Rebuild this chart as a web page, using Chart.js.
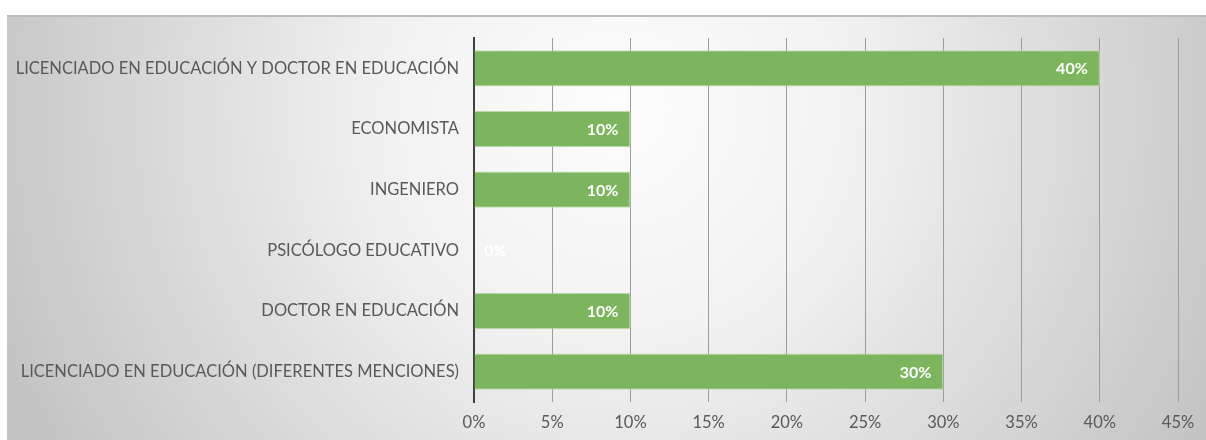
<!DOCTYPE html>
<html lang="es">
<head>
    <meta charset="UTF-8">
    <title>Formación profesional</title>
    <style>
        body {
            margin: 0;
            padding: 0;
            background-color: #ffffff;
        }

        .chart-box {
            width: 1206px;
            height: 440px;
        }
    </style>
    <script src="https://cdn.jsdelivr.net/npm/chart.js"></script>
</head>
<body>

    <div class="chart-box">
        <canvas id="myCanvas" width="1206" height="440"></canvas>
    </div>

    <script>
        "use strict";

        // categories (top to bottom) and their share in percent
        const categories = [
            'LICENCIADO EN EDUCACIÓN Y DOCTOR EN EDUCACIÓN',
            'ECONOMISTA',
            'INGENIERO',
            'PSICÓLOGO EDUCATIVO',
            'DOCTOR EN EDUCACIÓN',
            'LICENCIADO EN EDUCACIÓN (DIFERENTES MENCIONES)'
        ];
        const percentages = [40, 10, 10, 0, 10, 30];
        const axisMax = 45;
        const axisStep = 5;

        const labelFont = 'Lato';
        const textGrey = '#595959';
        const barGreen = '#7cb55e';

        // grey radial backdrop with a thin top rule
        const backdrop = {
            id: 'backdrop',
            beforeDraw(chart) {
                const ctx = chart.ctx;
                const w = chart.width, h = chart.height;
                ctx.save();
                const g = ctx.createRadialGradient(620, 110, 0, 620, 110, 660);
                g.addColorStop(0, '#fdfdfd');
                g.addColorStop(0.35, '#f2f2f2');
                g.addColorStop(1, '#c4c4c4');
                ctx.fillStyle = g;
                ctx.fillRect(7, 15, w - 7, h - 15);
                ctx.fillStyle = '#bcbcbc';
                ctx.fillRect(7, 15, w - 7, 2);
                ctx.restore();
            }
        };

        // value labels inside the end of each bar
        const valueLabels = {
            id: 'valueLabels',
            afterDatasetsDraw(chart) {
                const ctx = chart.ctx;
                const meta = chart.getDatasetMeta(0);
                ctx.save();
                ctx.font = 'bold 16px ' + labelFont;
                ctx.fillStyle = '#ffffff';
                ctx.textBaseline = 'middle';
                meta.data.forEach((bar, i) => {
                    const v = chart.data.datasets[0].data[i];
                    const text = v + '%';
                    if (v > 0) {
                        ctx.textAlign = 'right';
                        ctx.fillText(text, bar.x - 12, bar.y + 1);
                    } else {
                        ctx.textAlign = 'left';
                        ctx.fillText(text, bar.base + 10, bar.y + 1);
                    }
                });
                ctx.restore();
            }
        };

        const ctx = document.getElementById('myCanvas').getContext('2d');

        const chart = new Chart(ctx, {
            type: 'bar',
            data: {
                labels: categories,
                datasets: [{
                    data: percentages,
                    backgroundColor: barGreen,
                    borderColor: 'rgba(190, 225, 170, 0.9)',
                    borderWidth: 1,
                    borderSkipped: 'left',
                    barPercentage: 0.6,
                    categoryPercentage: 1
                }]
            },
            options: {
                indexAxis: 'y',
                responsive: false,
                animation: false,
                layout: {
                    padding: { top: 38, right: 28, left: 0, bottom: 0 }
                },
                scales: {
                    x: {
                        min: 0,
                        max: axisMax,
                        ticks: {
                            stepSize: axisStep,
                            padding: 11,
                            color: textGrey,
                            font: { family: labelFont, size: 16.5 },
                            callback: (v) => v + '%'
                        },
                        grid: {
                            color: '#9c9c9c',
                            lineWidth: 1,
                            drawTicks: false
                        },
                        border: { display: false },
                        afterFit(scale) { scale.height = 38; }
                    },
                    y: {
                        ticks: {
                            padding: 15,
                            color: textGrey,
                            font: { family: labelFont, size: 16.5 }
                        },
                        grid: { display: false, drawTicks: false },
                        border: { display: true, color: '#404040', width: 2 },
                        afterFit(scale) { scale.width = 474; }
                    }
                },
                plugins: {
                    legend: { display: false },
                    tooltip: { enabled: false }
                }
            },
            plugins: [backdrop, valueLabels]
        });
    </script>
</body>
</html>
